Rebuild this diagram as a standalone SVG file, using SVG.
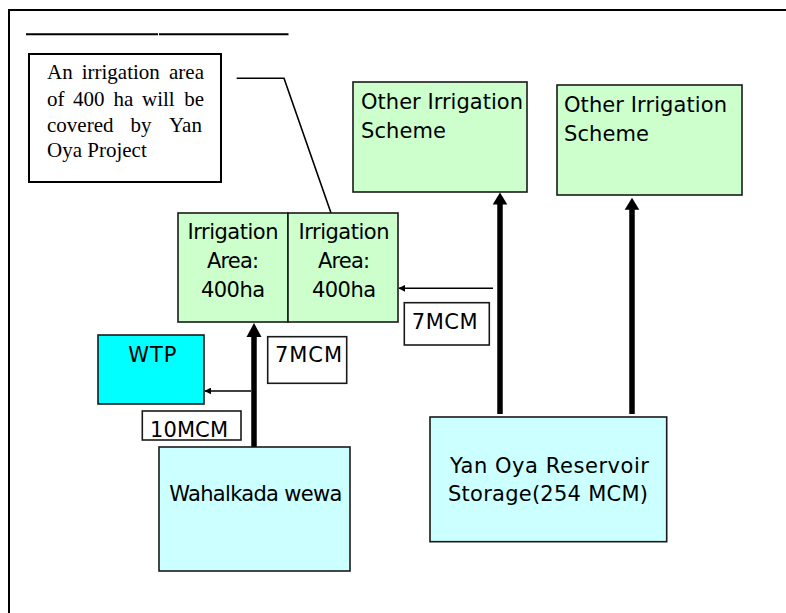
<svg xmlns="http://www.w3.org/2000/svg" width="786" height="613" viewBox="0 0 786 613">
<defs>
<style>
.lbl{font-family:"DejaVu Sans","Liberation Sans",sans-serif;font-size:21px;fill:#000}
.ser{font-family:"Liberation Serif","Times New Roman",serif;font-size:21px;fill:#000}
.green{fill:#CCFFCC;stroke:#1a1a1a;stroke-width:1.6}
.lcyan{fill:#CCFFFF;stroke:#1a1a1a;stroke-width:1.6}
.cyan{fill:#00FFFF;stroke:#1a1a1a;stroke-width:1.6}
.tag{fill:#fff;stroke:#1a1a1a;stroke-width:1.6}
.thick{stroke:#000;stroke-width:5.5;fill:none}
.thin{stroke:#000;stroke-width:1.6;fill:none}
</style>
<marker id="sm" viewBox="0 0 10 10" refX="9" refY="5" markerWidth="7" markerHeight="7" markerUnits="userSpaceOnUse" orient="auto">
<path d="M0,0 L10,5 L0,10 z" fill="#000"/>
</marker>
</defs>
<rect width="786" height="613" fill="#fff"/>
<path d="M9,613 V10 H786" fill="none" stroke="#000" stroke-width="2"/>
<path d="M26,34.3 H158 M159,34.3 H288.5" stroke="#000" stroke-width="2" fill="none"/>

<g id="note">
<rect x="29" y="54" width="192" height="128" fill="#fff" stroke="#000" stroke-width="2"/>
<text class="ser" y="79"><tspan x="47">An</tspan><tspan x="81.7">irrigation</tspan><tspan x="169">area</tspan></text>
<text class="ser" y="106"><tspan x="47">of</tspan><tspan x="73">400</tspan><tspan x="113.5">ha</tspan><tspan x="142">will</tspan><tspan x="184.2">be</tspan></text>
<text class="ser" y="132"><tspan x="47">covered</tspan><tspan x="130.5">by</tspan><tspan x="169">Yan</tspan></text>
<text class="ser" y="157" x="47">Oya Project</text>
</g>

<g id="connectors">
<polyline class="thin" points="236.7,78.3 284,78.3 331,213"/>
<line class="thick" x1="254" y1="447" x2="254" y2="334"/>
<polygon points="254,323 246.5,337 261.5,337" fill="#000"/>
<line class="thick" x1="500" y1="414" x2="500" y2="202"/>
<polygon points="500,192.5 492.7,204.5 507.3,204.5" fill="#000"/>
<line class="thick" x1="632" y1="414" x2="632" y2="207"/>
<polygon points="632,197.7 624.7,209.7 639.3,209.7" fill="#000"/>
<line class="thin" x1="251" y1="391" x2="205" y2="391" marker-end="url(#sm)"/>
<line class="thin" x1="493" y1="288.3" x2="399" y2="288.3" marker-end="url(#sm)"/>
</g>

<g id="irr1">
<rect class="green" x="178" y="213" width="110" height="109"/>
<text class="lbl" x="233" y="238.5" text-anchor="middle" textLength="91">Irrigation</text>
<text class="lbl" x="233" y="268" text-anchor="middle" textLength="52">Area:</text>
<text class="lbl" x="233" y="296.5" text-anchor="middle" textLength="64">400ha</text>
</g>
<g id="irr2">
<rect class="green" x="288" y="213" width="110" height="109"/>
<text class="lbl" x="344" y="238.5" text-anchor="middle" textLength="91">Irrigation</text>
<text class="lbl" x="344" y="268" text-anchor="middle" textLength="52">Area:</text>
<text class="lbl" x="344" y="296.5" text-anchor="middle" textLength="64">400ha</text>
</g>

<g id="other1">
<rect class="green" x="353" y="82" width="174" height="110"/>
<text class="lbl" x="361" y="109" textLength="162">Other Irrigation</text>
<text class="lbl" x="361" y="138" textLength="85">Scheme</text>
</g>
<g id="other2">
<rect class="green" x="557" y="85" width="185" height="110"/>
<text class="lbl" x="564" y="112" textLength="163">Other Irrigation</text>
<text class="lbl" x="564" y="141" textLength="85">Scheme</text>
</g>

<g id="wtp">
<rect class="cyan" x="98" y="335" width="106" height="69"/>
<text class="lbl" x="128.3" y="361.5" textLength="48">WTP</text>
</g>

<g id="q10">
<rect class="tag" x="142.3" y="411" width="98.7" height="29"/>
<text class="lbl" x="150" y="437.3" textLength="78">10MCM</text>
</g>
<g id="q7a">
<rect class="tag" x="267.7" y="336.7" width="79" height="46.6"/>
<text class="lbl" x="275" y="362.3" textLength="67">7MCM</text>
</g>
<g id="q7b">
<rect class="tag" x="404.3" y="302.7" width="85" height="42.3"/>
<text class="lbl" x="411.7" y="329" textLength="66">7MCM</text>
</g>

<g id="wahalkada">
<rect class="lcyan" x="159" y="447" width="191" height="124"/>
<text class="lbl" x="169.3" y="500.7" textLength="173">Wahalkada wewa</text>
</g>
<g id="yanoya">
<rect class="lcyan" x="430" y="417" width="236.7" height="124.7"/>
<text class="lbl" x="450" y="472.7" textLength="199">Yan Oya Reservoir</text>
<text class="lbl" x="448" y="501" textLength="200">Storage(254 MCM)</text>
</g>
</svg>
